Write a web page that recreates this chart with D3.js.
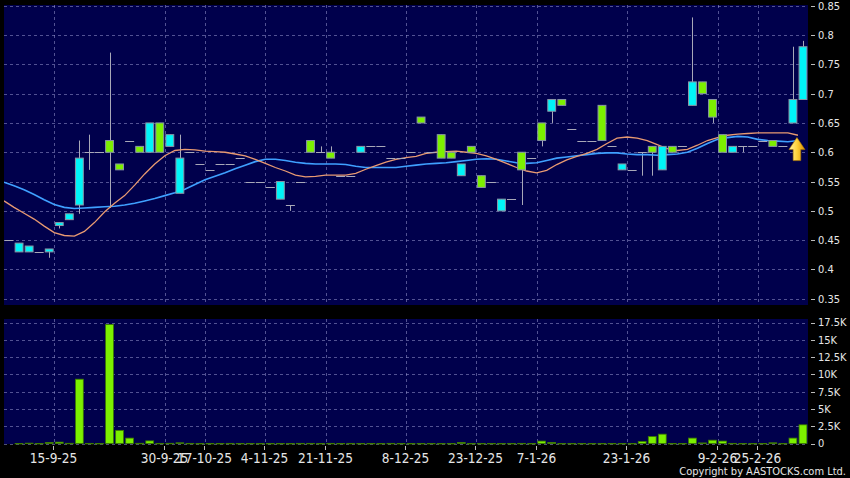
<!DOCTYPE html>
<html><head><meta charset="utf-8">
<script src="https://cdn.jsdelivr.net/npm/d3@7"></script>
<style>html,body{margin:0;padding:0;background:#000;}svg{display:block;}</style>
</head><body><svg id="c" width="850" height="478"></svg>
<script>
// ---- data ----
const opens  = [0.45,0.43,0.43,0.43,0.43,0.475,0.485,0.51,0.60,0.60, 0.62,0.58,0.62,0.61,0.60,0.65,0.61,0.53,0.60,0.58, 0.57,0.58,0.58,0.59,0.55,0.55,0.54,0.52,0.51,0.55, 0.62,0.60,0.60,0.56,0.56,0.60,0.61,0.61,0.59,0.59, 0.60,0.66,0.60,0.63,0.60,0.56,0.61,0.56,0.55,0.50, 0.52,0.60,0.59,0.65,0.67,0.69,0.64,0.62,0.62,0.68, 0.61,0.57,0.57,0.60,0.61,0.57,0.61,0.61,0.68,0.72, 0.69,0.63,0.60,0.61,0.61,0.62,0.62,0.61,0.65,0.69];
const closes = [0.45,0.445,0.44,0.43,0.435,0.48,0.495,0.59,0.60,0.60, 0.60,0.57,0.62,0.60,0.65,0.60,0.63,0.59,0.60,0.58, 0.57,0.58,0.58,0.59,0.55,0.55,0.54,0.55,0.51,0.55, 0.60,0.60,0.59,0.56,0.56,0.61,0.61,0.61,0.59,0.59, 0.60,0.65,0.60,0.59,0.59,0.58,0.60,0.54,0.55,0.52, 0.52,0.57,0.59,0.62,0.69,0.68,0.64,0.62,0.62,0.62, 0.61,0.58,0.57,0.60,0.60,0.61,0.60,0.61,0.72,0.70, 0.66,0.60,0.61,0.61,0.61,0.62,0.61,0.61,0.69,0.78];
const highs  = [0.45,0.445,0.44,0.43,0.435,0.48,0.495,0.62,0.63,0.60, 0.77,0.58,0.62,0.61,0.65,0.65,0.63,0.63,0.60,0.58, 0.57,0.58,0.58,0.59,0.55,0.55,0.54,0.55,0.51,0.55, 0.62,0.61,0.61,0.56,0.56,0.61,0.61,0.61,0.59,0.59, 0.60,0.66,0.60,0.63,0.60,0.58,0.61,0.56,0.55,0.52, 0.52,0.60,0.59,0.65,0.69,0.69,0.64,0.62,0.62,0.68, 0.61,0.58,0.57,0.60,0.61,0.61,0.61,0.61,0.83,0.72, 0.69,0.63,0.61,0.61,0.61,0.62,0.62,0.61,0.78,0.79];
const lows   = [0.45,0.43,0.43,0.43,0.42,0.47,0.485,0.495,0.57,0.60, 0.505,0.57,0.62,0.60,0.60,0.60,0.61,0.53,0.60,0.58, 0.57,0.58,0.58,0.59,0.55,0.55,0.54,0.52,0.50,0.55, 0.60,0.60,0.59,0.56,0.56,0.60,0.61,0.61,0.59,0.59, 0.60,0.65,0.60,0.59,0.59,0.56,0.60,0.54,0.55,0.50, 0.52,0.51,0.59,0.61,0.65,0.68,0.64,0.62,0.62,0.62, 0.61,0.57,0.57,0.56,0.56,0.57,0.60,0.61,0.68,0.70, 0.65,0.60,0.60,0.60,0.61,0.62,0.61,0.61,0.65,0.69];
const volumes = [0,10,50,10,150,200,30,9300,20,10, 17200,1900,780,30,380,20,30,100,20,10, 10,10,20,10,10,10,10,10,10,20, 20,10,20,10,20,10,10,10,20,10, 10,10,10,10,10,150,10,10,10,10, 10,20,10,350,150,10,10,10,10,10, 10,10,10,300,1000,1350,10,10,780,80, 480,350,20,10,10,10,100,10,780,2700];
const maShort = [0.517,0.506,0.496,0.486,0.474,0.463,0.458,0.457,0.465,0.480, 0.498,0.513,0.526,0.544,0.563,0.580,0.594,0.603,0.605,0.604, 0.602,0.601,0.600,0.597,0.594,0.588,0.581,0.574,0.568,0.561, 0.558,0.559,0.561,0.561,0.561,0.564,0.571,0.577,0.583,0.588, 0.591,0.593,0.598,0.600,0.601,0.602,0.600,0.598,0.594,0.588, 0.581,0.574,0.568,0.565,0.569,0.579,0.587,0.593,0.598,0.605, 0.615,0.624,0.626,0.624,0.620,0.613,0.606,0.603,0.605,0.612, 0.620,0.625,0.629,0.631,0.632,0.633,0.633,0.633,0.633,0.629];
const maLong = [0.549,0.543,0.536,0.528,0.519,0.511,0.506,0.504,0.505,0.506, 0.507,0.508,0.510,0.513,0.517,0.521,0.526,0.531,0.537,0.545, 0.553,0.559,0.565,0.572,0.578,0.584,0.588,0.588,0.586,0.583, 0.581,0.580,0.580,0.580,0.579,0.576,0.574,0.574,0.574,0.574, 0.576,0.578,0.580,0.581,0.582,0.584,0.586,0.588,0.589,0.588, 0.585,0.582,0.581,0.582,0.586,0.590,0.592,0.594,0.596,0.598, 0.599,0.599,0.597,0.596,0.596,0.595,0.596,0.597,0.600,0.607, 0.615,0.622,0.625,0.627,0.626,0.622,0.620,0.619,0.618,0.620];
const tickIndex  = [5,16,20,26,32,40,47,53,62,71,75];
const tickLabels = ["15-9-25","30-9-25","17-10-25","4-11-25","21-11-25","8-12-25","23-12-25","7-1-26","23-1-26","9-2-26","25-2-26"];
const priceTicks = [0.35,0.4,0.45,0.5,0.55,0.6,0.65,0.7,0.75,0.8,0.85];
const volTicks = [0,2500,5000,7500,10000,12500,15000,17500];
const volTickLabels = ["0","2.5K","5K","7.5K","10K","12.5K","15K","17.5K"];

// ---- drawing ----
const svg = d3.select("#c");
const FONT = "'DejaVu Sans Condensed','DejaVu Sans',sans-serif";
const BG = "#00004c", GRID = "rgba(150,150,205,0.55)", TXT = "#e6e6e6";
const L = 4, R = 808;
const x = d3.scaleBand().domain(d3.range(opens.length)).range([L, R]).padding(0);
const bw = x.bandwidth();
const y = d3.scaleLinear().domain([0.35, 0.85]).range([298.8, 5.7]);
const yv = d3.scaleLinear().domain([0, 17500]).range([443.5, 322.5]);

svg.append("rect").attr("width",850).attr("height",478).attr("fill","#000");
svg.append("rect").attr("x",L).attr("y",5).attr("width",R-L).attr("height",300).attr("fill",BG);
svg.append("rect").attr("x",L).attr("y",319).attr("width",R-L).attr("height",125).attr("fill",BG);

const defs = svg.append("defs");
defs.append("clipPath").attr("id","cp").append("rect").attr("x",L).attr("y",5).attr("width",R-L).attr("height",300);
const g = defs.append("linearGradient").attr("id","arr").attr("x1","0").attr("x2","1").attr("y1","0").attr("y2","0");
g.append("stop").attr("offset","0").attr("stop-color","#fff3a8");
g.append("stop").attr("offset","0.5").attr("stop-color","#ffd23a");
g.append("stop").attr("offset","1").attr("stop-color","#d98e00");

// grids
const grid = svg.append("g").attr("stroke",GRID).attr("stroke-width",1).attr("stroke-dasharray","3,3");
priceTicks.forEach(p => grid.append("line").attr("x1",L).attr("x2",R).attr("y1",Math.round(y(p))+0.5).attr("y2",Math.round(y(p))+0.5));
volTicks.forEach(v => grid.append("line").attr("x1",L).attr("x2",R).attr("y1",Math.round(yv(v))+0.5).attr("y2",Math.round(yv(v))+0.5));
tickIndex.forEach(i => {
  const xx = Math.round(x(i))+0.5;
  grid.append("line").attr("x1",xx).attr("x2",xx).attr("y1",5).attr("y2",305);
  grid.append("line").attr("x1",xx).attr("x2",xx).attr("y1",319).attr("y2",444);
});

// candles
const cg = svg.append("g").attr("clip-path","url(#cp)");
const cx = i => x(i) + bw/2;
opens.forEach((o,i) => {
  const h = highs[i], l = lows[i];
  if (h !== l) cg.append("line").attr("x1",Math.round(cx(i))+0.5).attr("x2",Math.round(cx(i))+0.5)
      .attr("y1",y(h)).attr("y2",y(l)).attr("stroke","#a8a8b8").attr("stroke-width",1);
});
// moving averages
const lineGen = arr => d3.line().x((d,i)=>x(i)).y(d=>y(d))(arr);
cg.append("path").attr("d",lineGen(maLong)).attr("fill","none").attr("stroke","#3fa0ff").attr("stroke-width",1.6);
cg.append("path").attr("d",lineGen(maShort)).attr("fill","none").attr("stroke","#e89a72").attr("stroke-width",1.3);
opens.forEach((o,i) => {
  const c = closes[i];
  if (o === c) {
    cg.append("line").attr("x1",x(i)+0.5).attr("x2",x(i)+bw-0.5).attr("y1",Math.round(y(c))+0.5).attr("y2",Math.round(y(c))+0.5)
      .attr("stroke","#a8a8b8").attr("stroke-width",1);
  } else {
    const top = y(Math.max(o,c)), bot = y(Math.min(o,c));
    cg.append("rect").attr("x",x(i)+1.1).attr("width",bw-2.2).attr("y",top).attr("height",bot-top)
      .attr("fill", c > o ? "#00f4f8" : "#7cf000").attr("stroke","#8a96a6").attr("stroke-width",1);
  }
});

// arrow marker
const ax = x(opens.length-1) - 1, ay = y(0.625);
svg.append("path").attr("d",`M${ax},${ay} L${ax+8},${ay+12} L${ax+3.8},${ay+12} L${ax+3.8},${ay+23} L${ax-3.8},${ay+23} L${ax-3.8},${ay+12} L${ax-8},${ay+12} Z`)
  .attr("fill","url(#arr)").attr("stroke","#b07800").attr("stroke-width",0.6);

// volume bars
volumes.forEach((v,i) => {
  if (v <= 0) return;
  const t = yv(v), b = yv(0);
  svg.append("rect").attr("x",x(i)+1.1).attr("width",bw-2.2).attr("y",t).attr("height",Math.max(0.5,b-t))
    .attr("fill","#7cf000").attr("stroke","#3d7a00").attr("stroke-width",0.8);
});

// right axes
const ax2 = svg.append("g").attr("font-family",FONT).attr("font-size",11).attr("fill",TXT);
priceTicks.forEach(p => {
  ax2.append("line").attr("x1",811).attr("x2",815).attr("y1",Math.round(y(p))+0.5).attr("y2",Math.round(y(p))+0.5).attr("stroke","#bbb");
  ax2.append("text").attr("x",818).attr("y",y(p)).attr("dy","0.36em").text(String(p));
});
volTicks.forEach((v,k) => {
  ax2.append("line").attr("x1",811).attr("x2",815).attr("y1",Math.round(yv(v))+0.5).attr("y2",Math.round(yv(v))+0.5).attr("stroke","#bbb");
  ax2.append("text").attr("x",818).attr("y",yv(v)).attr("dy","0.36em").text(volTickLabels[k]);
});

// bottom axis
const bx = svg.append("g").attr("font-family",FONT).attr("font-size",13.5).attr("fill",TXT);
tickIndex.forEach((i,k) => {
  const xx = Math.round(x(i))-0.5;
  bx.append("line").attr("x1",xx).attr("x2",xx).attr("y1",446).attr("y2",450).attr("stroke","#bbb");
  bx.append("text").attr("x",xx).attr("y",462.5).attr("text-anchor","middle").text(tickLabels[k]);
});

svg.append("text").attr("x",846).attr("y",475).attr("text-anchor","end").attr("font-family",FONT)
  .attr("font-size",11).attr("fill",TXT).text("Copyright by AASTOCKS.com Ltd.");
</script></body></html>
